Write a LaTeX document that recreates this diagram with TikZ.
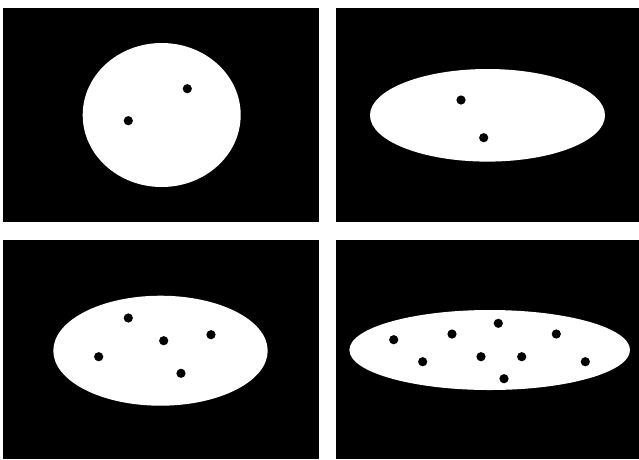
\documentclass[tikz,border=0pt]{standalone}
\begin{document}
\begin{tikzpicture}[x=1pt,y=-1pt,
  panel/.style={fill=black},
  blob/.style={fill=white},
  spot/.style={fill=black}]
\useasboundingbox (0,0) rectangle (639,459);
\fill[white] (0,0) rectangle (639,459);
% panels
\fill[panel] (3,8) rectangle (319,222);
\fill[panel] (336,8) rectangle (639,222);
\fill[panel] (3,240) rectangle (319,459);
\fill[panel] (336,240) rectangle (639,459);
% ellipses
\fill[blob] (161.7,115) ellipse [x radius=79, y radius=72];
\fill[blob] (487.5,115.3) ellipse [x radius=117.5, y radius=46.3];
\fill[blob] (160.5,350.7) ellipse [x radius=107.2, y radius=55];
\fill[blob] (489.7,350) ellipse [x radius=140.3, y radius=40];
% dots
\foreach \p in {(187.3,88.7),(128.3,120.7),
  (461,100),(483.7,137.7),
  (128.3,318),(163.7,340.7),(211,334.7),(98.7,356.7),(181,373.3),
  (393.7,339.7),(452,334),(498.3,323.3),(556.3,334),(422.7,361.7),
  (481,356.7),(521.7,356.7),(585.3,361.7),(504,378.7)}
  \fill[spot] \p circle (4.6);
\end{tikzpicture}
\end{document}
